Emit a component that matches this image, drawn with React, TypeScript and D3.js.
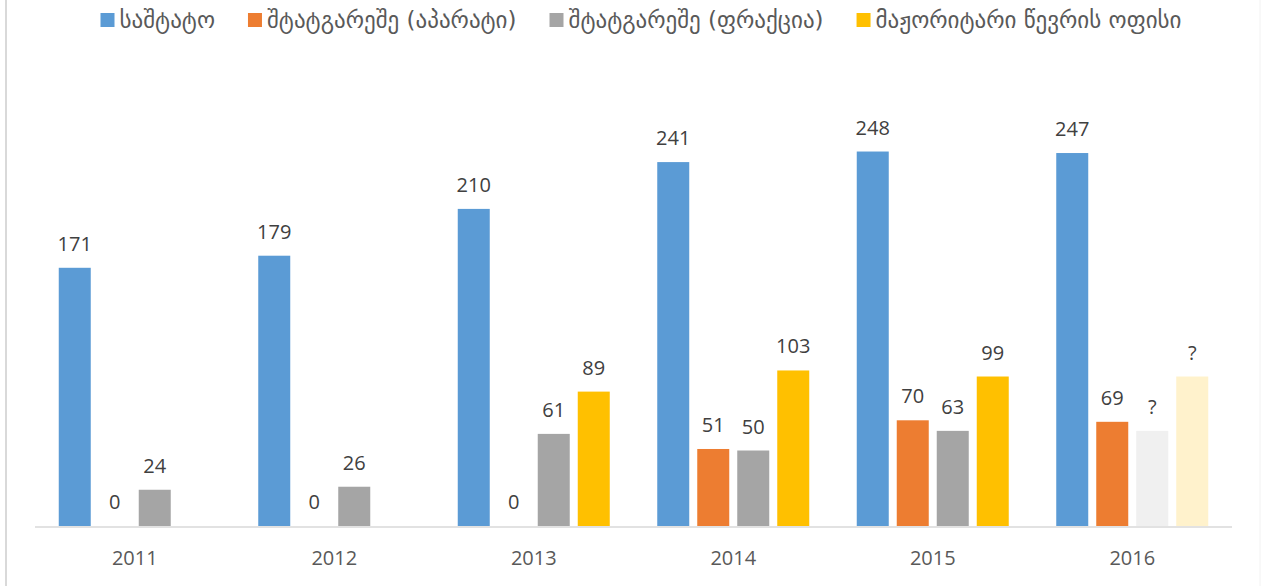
import React, { useLayoutEffect, useRef, useState } from "react";
import * as d3 from "d3";

const categories = ["2011", "2012", "2013", "2014", "2015", "2016"];
const seriesNames = [
  "საშტატო",
  "შტატგარეშე (აპარატი)",
  "შტატგარეშე (ფრაქცია)",
  "მაჟორიტარი წევრის ოფისი",
];
const staffValues: (number | null)[] = [171, 179, 210, 241, 248, 247];
const apparatusValues: (number | null)[] = [0, 0, 0, 51, 70, 69];
const factionValues: (number | null)[] = [24, 26, 61, 50, 63, 63];
const majoritarianValues: (number | null)[] = [null, null, 89, 103, 99, 99];
// estimated (unknown) values: drawn faded with a "?" label
const staffUnknown = [false, false, false, false, false, false];
const apparatusUnknown = [false, false, false, false, false, false];
const factionUnknown = [false, false, false, false, false, true];
const majoritarianUnknown = [false, false, false, false, false, true];

const colors = ["#5b9bd5", "#ed7d31", "#a5a5a5", "#ffc000"];
const fadedColors = ["#deebf7", "#fbe5d6", "#f0f0f0", "#fff2cc"];

const W = 1261;
const H = 586;
const plotLeft = 35;
const plotRight = 1232;
const baseY = 526;
const legendFont = 23;

export default function App() {
  const seriesValues = [staffValues, apparatusValues, factionValues, majoritarianValues];
  const seriesUnknown = [staffUnknown, apparatusUnknown, factionUnknown, majoritarianUnknown];

  const x0 = d3.scaleBand<string>().domain(categories).range([plotLeft, plotRight]).paddingInner(0).paddingOuter(0);
  const groupW = 152;
  const x1 = d3.scaleBand<number>().domain([0, 1, 2, 3]).range([0, groupW]).paddingInner(0.2).paddingOuter(0);
  const y = d3.scaleLinear().domain([0, 300]).range([baseY, 73]);
  const groupOffset = (x0.bandwidth() - groupW) / 2;

  const textRefs = useRef<(SVGTextElement | null)[]>([]);
  const [widths, setWidths] = useState<number[]>([99, 245, 244, 306]);
  useLayoutEffect(() => {
    const w = textRefs.current.map((t, i) => (t ? t.getComputedTextLength() : widths[i]));
    if (w.some((v, i) => Math.abs(v - widths[i]) > 0.5)) setWidths(w);
  }, []);

  const sq = 14;
  const sqGap = 5;
  const itemGap = 33;
  const total = widths.reduce((a, b) => a + b, 0) + 4 * (sq + sqGap) + 3 * itemGap;
  const legendCenter = 641;
  let cursor = legendCenter - total / 2;
  const legendItems = seriesNames.map((name, i) => {
    const sx = cursor;
    cursor += sq + sqGap + widths[i] + itemGap;
    return { name, sx, i };
  });

  return (
    <svg width={W} height={H} style={{ position: "absolute", left: 0, top: 0, background: "#fff" }}>
      <rect x={0} y={0} width={W} height={H} fill="#fff" />
      <line x1={6} x2={6} y1={0} y2={H} stroke="#d9d9d9" strokeWidth={2} />
      <line x1={1260} x2={1260} y1={0} y2={H} stroke="#f2f2f2" strokeWidth={1} />

      {/* legend */}
      {legendItems.map(({ name, sx, i }) => (
        <g key={name}>
          <rect x={sx} y={13} width={sq} height={sq} fill={colors[i]} />
          <text
            ref={(el) => {
              textRefs.current[i] = el;
            }}
            x={sx + sq + sqGap}
            y={28}
            fontFamily="'DejaVu Sans', sans-serif"
            fontSize={legendFont}
            fill="#595959"
          >
            {name}
          </text>
        </g>
      ))}

      {/* bars */}
      {categories.map((cat, ci) => (
        <g key={cat} transform={`translate(${(x0(cat) ?? 0) + groupOffset},0)`}>
          {seriesValues.map((vals, si) => {
            const v = vals[ci];
            if (v === null || v === undefined) return null;
            const unknown = seriesUnknown[si][ci];
            const bx = x1(si) ?? 0;
            const top = y(v);
            return (
              <g key={si}>
                {v > 0 && (
                  <rect
                    x={bx}
                    y={top}
                    width={x1.bandwidth()}
                    height={baseY - top}
                    fill={unknown ? fadedColors[si] : colors[si]}
                  />
                )}
                <text
                  x={bx + x1.bandwidth() / 2}
                  y={top - 17}
                  textAnchor="middle"
                  fontFamily="'Open Sans', sans-serif"
                  fontSize={20}
                  fill="#404040"
                >
                  {unknown ? "?" : String(v)}
                </text>
              </g>
            );
          })}
        </g>
      ))}

      {/* axis */}
      <line x1={plotLeft} x2={plotRight} y1={baseY + 1} y2={baseY + 1} stroke="#d9d9d9" strokeWidth={1.5} />
      {categories.map((cat) => (
        <text
          key={cat}
          x={(x0(cat) ?? 0) + x0.bandwidth() / 2}
          y={565}
          textAnchor="middle"
          fontFamily="'Open Sans', sans-serif"
          fontSize={20}
          fill="#595959"
        >
          {cat}
        </text>
      ))}
    </svg>
  );
}
